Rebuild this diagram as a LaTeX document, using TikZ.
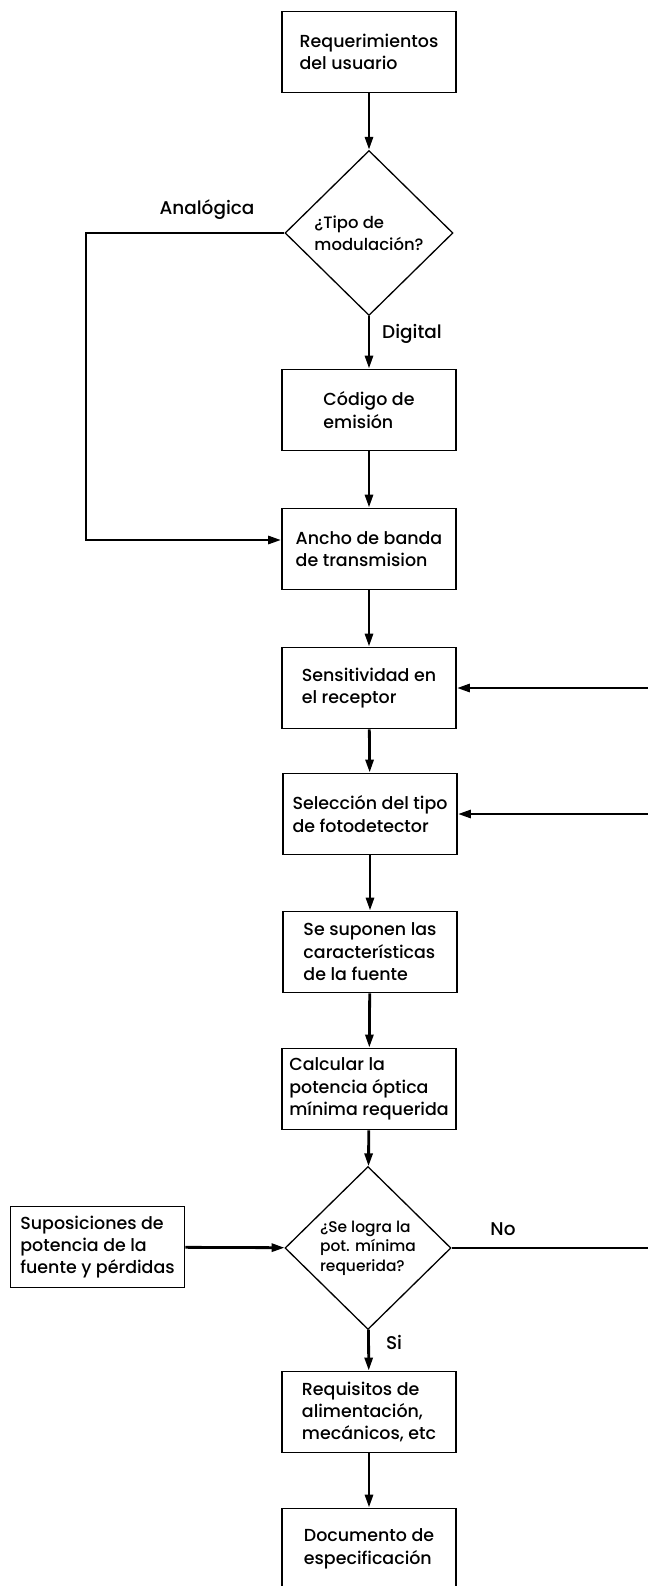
\documentclass[tikz,border=0pt]{standalone}
\usepackage{fontspec}
\setmainfont{Poppins}[UprightFont=* Medium]
\usetikzlibrary{shapes.geometric,arrows.meta}

\tikzset{
    caja/.style={draw, line width=1.8bp, minimum width=174bp, minimum height=81bp, inner sep=0pt, align=left, font=\fontsize{17.5}{22.5}\selectfont},
    rombo/.style={diamond, draw, line width=1.3bp, inner sep=0pt, align=left, minimum width=168bp, minimum height=165bp},
    flecha/.style={line width=2.8bp, -{Triangle[length=13bp,width=8bp]}},
    linea/.style={line width=2.8bp},
    etiq/.style={inner sep=0pt, font=\fontsize{18.5}{22}\selectfont}
    }

\begin{document}
\begin{tikzpicture}[x=1bp, y=-1bp]
                \useasboundingbox (0,0) rectangle (648,1586);
                % Los bloques
                \node(req)[caja] at (369,52) {Requerimientos\\del usuario};
                \node(tipo)[rombo, font=\fontsize{16.5}{22.5}\selectfont] at (369,233) {¿Tipo de\\modulación?};
                \node(cod)[caja] at (369,410) {Código de\\emisión};
                \node(ancho)[caja] at (369,549) {Ancho de banda\\de transmision};
                \node(sens)[caja] at (369,688) {Sensitividad en\\el receptor};
                \node(sel)[caja] at (370,814) {Selección del tipo\\de fotodetector};
                \node(sup)[caja] at (370,952) {Se suponen las\\características\\de la fuente};
                \node(calc)[caja] at (369,1089) {Calcular la\\potencia óptica\\mínima requerida};
                \node(logra)[rombo, minimum width=166bp, minimum height=163bp, font=\fontsize{15.5}{19.5}\selectfont] at (368,1248) {¿Se logra la\\pot. mínima\\requerida?};
                \node(supos)[caja] at (97.5,1247) {Suposiciones de\\potencia de la\\fuente y pérdidas};
                \node(requi)[caja] at (369,1412) {Requisitos de\\alimentación,\\mecánicos, etc};
                \node(doc)[caja] at (369,1549) {Documento de\\especificación};

                % Las flechas
                \coordinate (izq) at (86,233);
                \coordinate (der) at (648,0);
                \draw[flecha] (req) -- (tipo);
                \draw[flecha] (tipo) -- (cod);
                \draw[flecha] (cod) -- (ancho);
                \draw[flecha] (ancho) -- (sens);
                \draw[flecha] (sens) -- (sel);
                \draw[flecha] (sel) -- (sup);
                \draw[flecha] (sup) -- (calc);
                \draw[flecha] (calc) -- (logra);
                \draw[flecha] (logra) -- (requi);
                \draw[flecha] (requi) -- (doc);
                \draw[flecha] (tipo.west) -- (izq) |- ([yshift=9bp]ancho.west);
                \draw[flecha] (supos) -- (logra);
                \draw[linea] (logra.east) -- (logra.east -| der);
                \draw[flecha] (sens.east -| der) -- (sens.east);
                \draw[flecha] (sel.east -| der) -- (sel.east);

                % Las etiquetas
                \node(analog)[etiq] at (207,210) {Analógica};
                \node(digit)[etiq] at (412,334) {Digital};
                \node(no)[etiq] at (503,1229) {No};
                \node(si)[etiq] at (394,1342) {Si};
            \end{tikzpicture}
\end{document}
